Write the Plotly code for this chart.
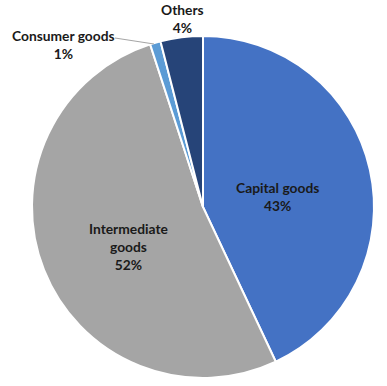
import plotly.graph_objects as go

categories = ["Capital goods", "Intermediate goods", "Consumer goods", "Others"]
values = [43, 52, 1, 4]
colors = ["#4472C4", "#A5A5A5", "#5B9BD5", "#264478"]
label_texts = ["Capital goods<br>43%", "Intermediate<br>goods<br>52%", "Consumer goods<br>1%", "Others<br>4%"]
label_pos = [(277, 196), (128, 246), (63, 45), (182, 19)]

W, H = 387, 386

def px(x):
    return x / W

def py(y):
    return 1 - y / H

fig = go.Figure(go.Pie(
    labels=categories, values=values, sort=False, direction="clockwise", rotation=0,
    marker=dict(colors=colors, line=dict(color="white", width=2)),
    textinfo="none", hoverinfo="label+percent",
    domain=dict(x=[px(31), px(375)], y=[py(378), py(36)]),
    showlegend=False,
))

for t, (x, y) in zip(label_texts, label_pos):
    fig.add_annotation(x=px(x), y=py(y), xref="paper", yref="paper", text=t, showarrow=False,
                       font=dict(family="Lato", size=13.8, color="#1a1a1a", weight="bold"),
                       xanchor="center", yanchor="middle", align="center")

fig.add_shape(type="line", xref="paper", yref="paper", x0=px(115), y0=py(38), x1=px(154), y1=py(44),
              line=dict(color="#A5A5A5", width=1))

fig.update_layout(width=W, height=H, margin=dict(l=0, r=0, t=0, b=0),
                  paper_bgcolor="white", plot_bgcolor="white")
fig.write_html("out.html", config={"displayModeBar": False},
               post_script="document.body.style.margin='0';document.body.style.overflow='hidden';")
